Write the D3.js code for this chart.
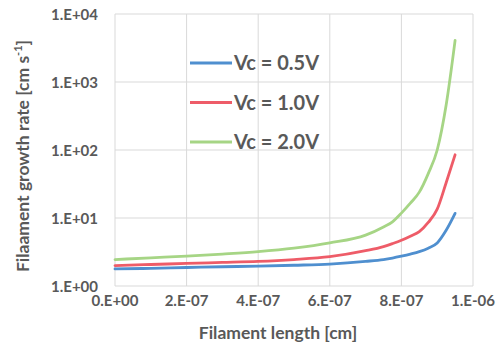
<!DOCTYPE html>
<html>
  <head>
    <meta charset="UTF-8">
    <style>
      body { margin: 0; background: #fff; }
      text { font-family: Lato, "Open Sans", sans-serif; font-weight: bold; fill: #595959; }
    </style>
  </head>
  <body>
    <svg class="chart"></svg>
    <script src="https://d3js.org/d3.v7.min.js"></script>
    <script>

/* DATA */
var lengths = [0, 1e-7, 2e-7, 3e-7, 4e-7, 5e-7, 6e-7, 7e-7, 7.5e-7, 7.75e-7, 8e-7, 8.25e-7, 8.5e-7, 8.75e-7, 9e-7, 9.25e-7, 9.5e-7];
var rate05 = [1.78, 1.82, 1.87, 1.92, 1.96, 2.02, 2.1, 2.3, 2.45, 2.58, 2.75, 2.95, 3.2, 3.6, 4.3, 6.6, 11.7];
var rate10 = [2.0, 2.07, 2.15, 2.22, 2.3, 2.45, 2.7, 3.3, 3.8, 4.2, 4.7, 5.4, 6.3, 8.6, 13.5, 33, 85];
var rate20 = [2.45, 2.6, 2.75, 2.95, 3.2, 3.6, 4.3, 5.6, 7.4, 8.8, 11.8, 16.5, 24, 45, 100, 460, 4100];
var seriesNames = ["Vc = 0.5V", "Vc = 1.0V", "Vc = 2.0V"];
var seriesColors = ["#4F8FCF", "#EE5C68", "#A6D585"];
var xTicks = [0, 2e-7, 4e-7, 6e-7, 8e-7, 1e-6];
var xTickLabels = ["0.E+00", "2.E-07", "4.E-07", "6.E-07", "8.E-07", "1.E-06"];
var yTicks = [1, 10, 100, 1000, 10000];
var yTickLabels = ["1.E+00", "1.E+01", "1.E+02", "1.E+03", "1.E+04"];

var width = 496, height = 354;
var margin = {top: 14, right: 23, bottom: 68, left: 115};
var innerW = width - margin.left - margin.right;
var innerH = height - margin.top - margin.bottom;

var svg = d3.select("svg")
  .attr("width", width)
  .attr("height", height);

var x = d3.scaleLinear().domain([0, 1e-6]).range([0, innerW]);
var y = d3.scaleLog().domain([1, 10000]).range([innerH, 0]);

var g = svg.append("g")
  .attr("transform", "translate(" + margin.left + "," + margin.top + ")");

// gridlines
g.append("g")
  .selectAll("line")
  .data(xTicks)
  .enter().append("line")
    .attr("x1", function(d) { return x(d); })
    .attr("x2", function(d) { return x(d); })
    .attr("y1", 0)
    .attr("y2", innerH)
    .attr("stroke", "#d9d9d9")
    .attr("stroke-width", 1);

g.append("g")
  .selectAll("line")
  .data(yTicks)
  .enter().append("line")
    .attr("x1", 0)
    .attr("x2", innerW)
    .attr("y1", function(d) { return y(d); })
    .attr("y2", function(d) { return y(d); })
    .attr("stroke", "#d9d9d9")
    .attr("stroke-width", 1);

// tick labels
g.append("g")
  .selectAll("text")
  .data(xTicks)
  .enter().append("text")
    .attr("x", function(d) { return x(d); })
    .attr("y", innerH + 20)
    .attr("text-anchor", "middle")
    .attr("font-size", "15px")
    .text(function(d, i) { return xTickLabels[i]; });

g.append("g")
  .selectAll("text")
  .data(yTicks)
  .enter().append("text")
    .attr("x", -17)
    .attr("y", function(d) { return y(d) + 5.5; })
    .attr("text-anchor", "end")
    .attr("font-size", "15px")
    .text(function(d, i) { return yTickLabels[i]; });

// axis titles
svg.append("text")
  .attr("x", margin.left + innerW / 2 - 16)
  .attr("y", 339)
  .attr("text-anchor", "middle")
  .attr("font-size", "17.5px")
  .text("Filament length [cm]");

var yTitle = svg.append("text")
  .attr("transform", "translate(29," + (margin.top + innerH / 2 + 6) + ") rotate(-90)")
  .attr("text-anchor", "middle")
  .attr("font-size", "17.5px");
yTitle.append("tspan").text("Filaament growth rate [cm s");
yTitle.append("tspan").attr("dy", -7).attr("font-size", "11px").text("-1");
yTitle.append("tspan").attr("dy", 7).text("]");

// lines
var allSeries = [rate05, rate10, rate20];
var line = d3.line()
  .x(function(d, i) { return x(lengths[i]); })
  .y(function(d) { return y(d); })
  .curve(d3.curveMonotoneX);

g.append("g")
  .selectAll("path")
  .data(allSeries)
  .enter().append("path")
    .attr("d", line)
    .attr("fill", "none")
    .attr("stroke", function(d, i) { return seriesColors[i]; })
    .attr("stroke-width", 2.8)
    .attr("stroke-linecap", "round");

// legend
var legend = svg.append("g")
  .selectAll("g")
  .data(seriesNames)
  .enter().append("g")
    .attr("transform", function(d, i) { return "translate(190," + (63 + i * 39.5) + ")"; });

legend.append("line")
  .attr("x1", 0)
  .attr("x2", 42)
  .attr("stroke", function(d, i) { return seriesColors[i]; })
  .attr("stroke-width", 2.8);

legend.append("text")
  .attr("x", 44)
  .attr("y", 7)
  .attr("font-size", "20px")
  .text(function(d) { return d; });

</script>
  </body>
</html>
